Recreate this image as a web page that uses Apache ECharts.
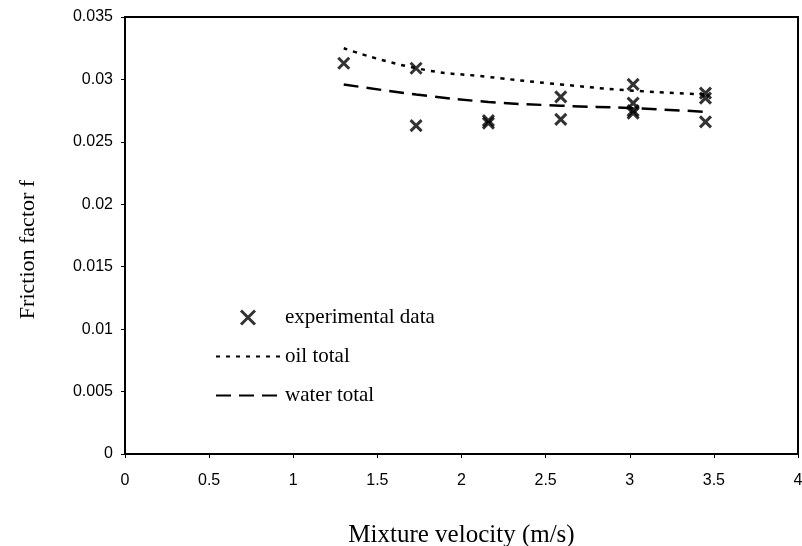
<!DOCTYPE html>
<html>
<head>
<meta charset="utf-8">
<script src="https://cdn.jsdelivr.net/npm/echarts@6/dist/echarts.min.js"></script>
<style>
  html, body { margin: 0; padding: 0; background: #fff; }
  #chart { width: 802px; height: 546px; }
</style>
</head>
<body>
<div id="chart"></div>
<script>
// measured points, [velocity, friction factor]
const expData = [
  [1.30, 0.0313],
  [1.73, 0.0309], [1.73, 0.0263],
  [2.16, 0.0265], [2.16, 0.0267],
  [2.59, 0.0286], [2.59, 0.0268],
  [3.02, 0.0296], [3.02, 0.0281], [3.02, 0.0273], [3.02, 0.0275],
  [3.45, 0.0289], [3.45, 0.0285], [3.45, 0.0266]
]
const velocity = [1.30, 1.73, 2.16, 2.59, 3.02, 3.45]
const oilTotal = [0.0325, 0.0309, 0.0302, 0.0296, 0.0291, 0.0288]
const waterTotal = [0.0296, 0.0288, 0.0282, 0.0279, 0.0277, 0.0274]

const crossPath = 'path://M0,0L10,10M10,0L0,10'

const chart = echarts.init(document.getElementById('chart'))
chart.setOption({
  animation: false,
  backgroundColor: '#fff',
  grid: {
    left: 125, right: 4, top: 17, bottom: 92,
    containLabel: false, outerBoundsMode: 'none',
    show: true, borderColor: '#000', borderWidth: 2
  },
  legend: {
    orient: 'vertical',
    left: 210, top: 302,
    itemWidth: 64, itemHeight: 14, itemGap: 18,
    textStyle: { fontFamily: 'Liberation Serif', fontSize: 21, color: '#000' },
    data: [
      { name: 'experimental data', itemStyle: { color: 'transparent', borderColor: '#000', borderWidth: 3 } },
      { name: 'oil total', itemStyle: { opacity: 0 } },
      { name: 'water total', itemStyle: { opacity: 0 } }
    ]
  },
  xAxis: {
    type: 'value', min: 0, max: 4, interval: 0.5,
    name: 'Mixture velocity (m/s)', nameLocation: 'middle', nameGap: 69,
    nameTextStyle: { fontFamily: 'Liberation Serif', fontSize: 25, color: '#000' },
    axisLine: { lineStyle: { color: '#000', width: 2 } },
    axisTick: { show: true, length: 4, lineStyle: { color: '#000' } },
    axisLabel: { fontFamily: 'Liberation Sans', fontSize: 16, color: '#000', margin: 19 },
    splitLine: { show: false }
  },
  yAxis: {
    type: 'value', min: 0, max: 0.035, interval: 0.005,
    name: 'Friction factor f', nameLocation: 'middle', nameGap: 86,
    nameTextStyle: { fontFamily: 'Liberation Serif', fontSize: 22, color: '#000', padding: [0, 0, 0, -28] },
    axisLine: { show: true, lineStyle: { color: '#000', width: 2 } },
    axisTick: { show: true, length: 4, lineStyle: { color: '#000' } },
    axisLabel: { fontFamily: 'Liberation Sans', fontSize: 16, color: '#000', margin: 12 },
    splitLine: { show: false }
  },
  series: [
    {
      name: 'experimental data',
      type: 'scatter',
      data: expData,
      symbol: crossPath,
      symbolSize: 11,
      itemStyle: { color: 'transparent', borderColor: '#000', borderWidth: 3 }
    },
    {
      name: 'oil total',
      type: 'line',
      smooth: true,
      symbol: 'none',
      data: velocity.map((v, i) => [v, oilTotal[i]]),
      itemStyle: { color: '#000' },
      lineStyle: { color: '#000', width: 2.5, type: [4, 6] }
    },
    {
      name: 'water total',
      type: 'line',
      smooth: true,
      symbol: 'none',
      data: velocity.map((v, i) => [v, waterTotal[i]]),
      itemStyle: { color: '#000' },
      lineStyle: { color: '#000', width: 2.5, type: [15, 8] }
    }
  ]
})
window.addEventListener('resize', () => chart.resize())
</script>
</body>
</html>
